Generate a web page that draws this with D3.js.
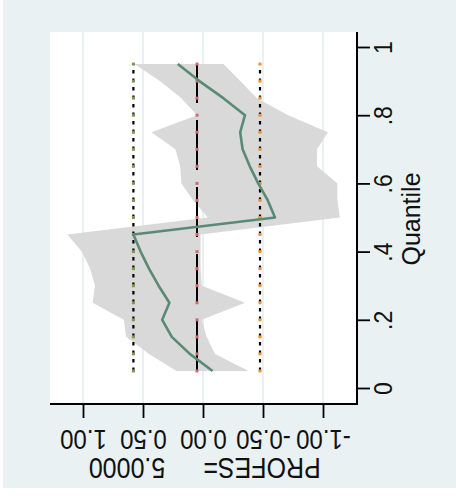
<!DOCTYPE html>
<html><head><meta charset="utf-8">
<script src="https://cdn.jsdelivr.net/npm/d3@7"></script>
<style>html,body{margin:0;padding:0;background:#fff;}svg{display:block;}</style>
</head><body>
<svg id="chart" width="456" height="496"></svg>
<script>
// ---- data ----
const quantiles = [0.05,0.10,0.15,0.20,0.25,0.30,0.35,0.40,0.45,0.50,0.55,0.60,0.65,0.70,0.75,0.80,0.85,0.90,0.95];
const coef   = [-0.08,0.11,0.26,0.34,0.28,0.37,0.45,0.52,0.58,-0.60,-0.54,-0.46,-0.39,-0.33,-0.31,-0.35,-0.17,0.03,0.21];
const ciHigh = [0.22,0.45,0.64,0.66,0.92,0.90,0.94,1.01,1.13,-0.04,0.08,0.18,0.19,0.23,0.43,0.05,0.18,0.36,0.57];
const ciLow  = [-0.38,-0.10,-0.03,0.01,-0.35,0.01,0.02,0.02,0.02,-1.14,-1.12,-1.12,-0.95,-0.95,-1.04,-0.71,-0.45,-0.31,-0.17];
const olsValues = [0.58, 0.05, -0.475];           // upper CI, OLS estimate, lower CI
const olsMarkColors = ["#7a9a4a", "#d06a6a", "#f0922e"];
const valueTicks = [-1, -0.5, 0, 0.5, 1];
const valueTickLabels = ["-1.00", "-0.50", "0.00", "0.50", "1.00"];
const quantileTicks = [0, 0.2, 0.4, 0.6, 0.8, 1];
const quantileTickLabels = ["0", ".2", ".4", ".6", ".8", "1"];
const titleParts = ["PROFES=", "5.0000"];
const axisTitle = "Quantile";

// ---- layout ----
const svg = d3.select("#chart");
const plot = {left: 50, right: 357, top: 32, bottom: 404};
const FONT = "'Liberation Sans', Arial, Helvetica, sans-serif";

// value axis runs right-to-left along the bottom, quantile axis bottom-to-top along the right
const x = d3.scaleLinear().domain([-1, 1]).range([323, 83]);
const y = d3.scaleLinear().domain([0, 1]).range([388, 47]);

// background
svg.append("rect").attr("x", 3).attr("y", 0).attr("width", 453).attr("height", 488).attr("fill", "#e9f1f3");
svg.append("rect").attr("x", plot.left).attr("y", plot.top)
  .attr("width", plot.right - plot.left).attr("height", plot.bottom - plot.top).attr("fill", "#ffffff");

// grid
svg.append("g").selectAll("line").data(valueTicks).join("line")
  .attr("x1", d => x(d)).attr("x2", d => x(d))
  .attr("y1", plot.top).attr("y2", plot.bottom)
  .attr("stroke", "#d8e7ec").attr("stroke-width", 1.2);

const rows = quantiles.map((q, i) => ({q, c: coef[i], hi: ciHigh[i], lo: ciLow[i]}));

// confidence band
svg.append("path").datum(rows)
  .attr("d", d3.area().y(d => y(d.q)).x0(d => x(d.lo)).x1(d => x(d.hi)))
  .attr("fill", "#d9d9d9");

// OLS lines
const qMin = d3.min(quantiles), qMax = d3.max(quantiles);
olsValues.forEach((v, k) => {
  const g = svg.append("g");
  const mid = k === 1;
  g.append("line")
    .attr("x1", x(v)).attr("x2", x(v)).attr("y1", y(qMin)).attr("y2", y(qMax))
    .attr("stroke", "#000").attr("stroke-width", mid ? 2 : 2.2)
    .attr("stroke-dasharray", mid ? "50,17" : "3.5,5");
  g.selectAll("rect").data(quantiles).join("rect")
    .attr("x", x(v) - 1.5).attr("y", d => y(d) - 1.5)
    .attr("width", 3).attr("height", 3)
    .attr("fill", olsMarkColors[k]);
});

// quantile coefficient line
svg.append("path").datum(rows)
  .attr("d", d3.line().y(d => y(d.q)).x(d => x(d.c)))
  .attr("fill", "none").attr("stroke", "#5a8a76").attr("stroke-width", 2.6)
  .attr("stroke-linejoin", "round");

// axes
const axB = svg.append("g").attr("transform", `translate(0,${plot.bottom})`)
  .call(d3.axisBottom(x).tickValues(valueTicks).tickSize(14).tickSizeOuter(0)
        .tickFormat((d, i) => valueTickLabels[i]));
axB.select(".domain").remove();
axB.selectAll(".tick line").attr("stroke", "#000").attr("stroke-width", 1.8);
axB.selectAll(".tick text")
  .attr("x", 0).attr("y", 0).attr("dy", 0)
  .attr("text-anchor", "middle")
  .attr("transform", "translate(0,26) rotate(180) scale(1,1.15)")
  .attr("font-family", FONT).attr("font-size", 24).attr("fill", "#111");

const axR = svg.append("g").attr("transform", `translate(${plot.right},0)`)
  .call(d3.axisRight(y).tickValues(quantileTicks).tickSize(13).tickSizeOuter(0)
        .tickFormat((d, i) => quantileTickLabels[i]));
axR.select(".domain").remove();
axR.selectAll(".tick line").attr("stroke", "#000").attr("stroke-width", 1.8);
axR.selectAll(".tick text")
  .attr("x", 0).attr("y", 0).attr("dy", 0)
  .attr("text-anchor", "middle")
  .attr("transform", "translate(35,0) rotate(-90) scale(1,1.15)")
  .attr("font-family", FONT).attr("font-size", 23).attr("fill", "#111");

// axis lines
svg.append("line").attr("x1", plot.left).attr("x2", plot.right + 1)
  .attr("y1", plot.bottom).attr("y2", plot.bottom).attr("stroke", "#000").attr("stroke-width", 2);
svg.append("line").attr("x1", plot.right).attr("x2", plot.right)
  .attr("y1", plot.top).attr("y2", plot.bottom + 1).attr("stroke", "#000").attr("stroke-width", 2);

// titles
svg.append("text").text(axisTitle)
  .attr("text-anchor", "middle")
  .attr("transform", "translate(420,219) rotate(-90)")
  .attr("font-family", FONT).attr("font-size", 25).attr("fill", "#111");

svg.append("text").text(titleParts[0])
  .attr("text-anchor", "middle")
  .attr("transform", "translate(262,458) rotate(180) scale(1,1.15)")
  .attr("font-family", FONT).attr("font-size", 25).attr("fill", "#111");
svg.append("text").text(titleParts[1])
  .attr("text-anchor", "middle")
  .attr("transform", "translate(127,458) rotate(180) scale(1,1.15)")
  .attr("font-family", FONT).attr("font-size", 25).attr("fill", "#111");
</script>
</body></html>
